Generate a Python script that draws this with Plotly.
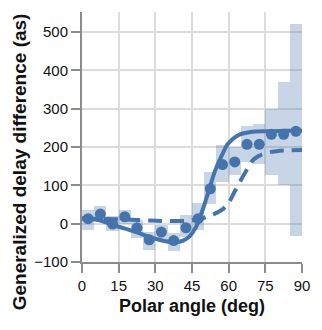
import plotly.graph_objects as go

# Binned data (bin centres, deg)
angles = [2.5, 7.5, 12.5, 17.5, 22.5, 27.5, 32.5, 37.5, 42.5, 47.5,
          52.5, 57.5, 62.5, 67.5, 72.5, 77.5, 82.5, 87.5]
delays = [13, 25, -1, 18, -11, -42, -22, -44, -11, 13,
          91, 154, 161, 207, 207, 233, 233, 241]
err_low = [-16, 9, -19, -2, -37, -68, -44, -72, -35, -17,
           52, 108, 126, 160, 155, 126, 100, -33]
err_high = [36, 45, 19, 36, 9, -22, -3, -25, 23, 54,
            135, 205, 200, 254, 260, 300, 370, 520]

# Model curves
solid_x = [0, 3.5, 7.2, 12.5, 17.7, 23, 28.2, 33.5, 38.1, 41.4, 44, 46.6,
           49.3, 51.9, 54.5, 57.2, 59.8, 63.7, 69, 76.9, 83, 90]
solid_y = [14, 12, 9, -3, -13, -24, -36, -45, -48, -44, -33, -9,
           35, 87, 139, 178, 209, 230, 239, 241, 242, 242]
dash_x = [0, 5, 11, 17.7, 28.2, 35, 41.4, 45.3, 48, 50.6, 54, 57.2, 59.8,
          62.4, 66.3, 70.3, 74.2, 79.5, 84, 90]
dash_y = [13, 13, 12, 11, 8, 7, 7, 9, 12, 17, 25, 36, 52,
          83, 128, 168, 182, 189, 191, 192]

x_ticks = [0, 15, 30, 45, 60, 75, 90]
y_ticks = [-100, 0, 100, 200, 300, 400, 500]
y_title = "Generalized delay difference (as)"

blue = "#4573ac"
font_family = "Liberation Sans, Arial, sans-serif"
fig = go.Figure()
fig.add_trace(go.Bar(
    x=angles, y=[h - l for h, l in zip(err_high, err_low)], base=err_low,
    width=5, marker=dict(color="rgba(80,125,180,0.32)", line=dict(width=0)),
    hoverinfo="skip", showlegend=False))
fig.add_trace(go.Scatter(x=dash_x, y=dash_y, mode="lines", line_shape="spline",
                         line=dict(color=blue, width=4, dash="14px,8px"),
                         showlegend=False))
fig.add_trace(go.Scatter(x=solid_x, y=solid_y, mode="lines", line_shape="spline",
                         line=dict(color=blue, width=4), showlegend=False))
fig.add_trace(go.Scatter(x=angles, y=delays, mode="markers",
                         marker=dict(color=blue, size=11), showlegend=False))

axis_common = dict(
    showgrid=True, gridcolor="#dcdcdc", gridwidth=1.5,
    showline=True, linecolor="#8c8c8c", linewidth=2,
    ticks="outside", ticklen=9, tickwidth=2, tickcolor="#8c8c8c",
    zeroline=False,
    tickfont=dict(family=font_family, size=15, color="#111"),
)
fig.update_layout(
    width=322, height=330,
    margin=dict(l=82, r=12, t=12, b=68),
    plot_bgcolor="white", paper_bgcolor="white",
    bargap=0,
    xaxis=dict(range=[0, 90], tickvals=x_ticks,
               title=dict(text="<b>Polar angle (deg)</b>", standoff=6,
                          font=dict(family=font_family, size=18, color="#111")),
               **axis_common),
    yaxis=dict(range=[-100, 552], tickvals=y_ticks, **axis_common),
    annotations=[dict(
        text="<b>" + y_title + "</b>", textangle=-90,
        xref="paper", yref="paper", x=-0.285, y=0.4,
        xanchor="center", yanchor="middle", showarrow=False,
        font=dict(family=font_family, size=19, color="#111"))],
)
fig.write_html("out.html")
